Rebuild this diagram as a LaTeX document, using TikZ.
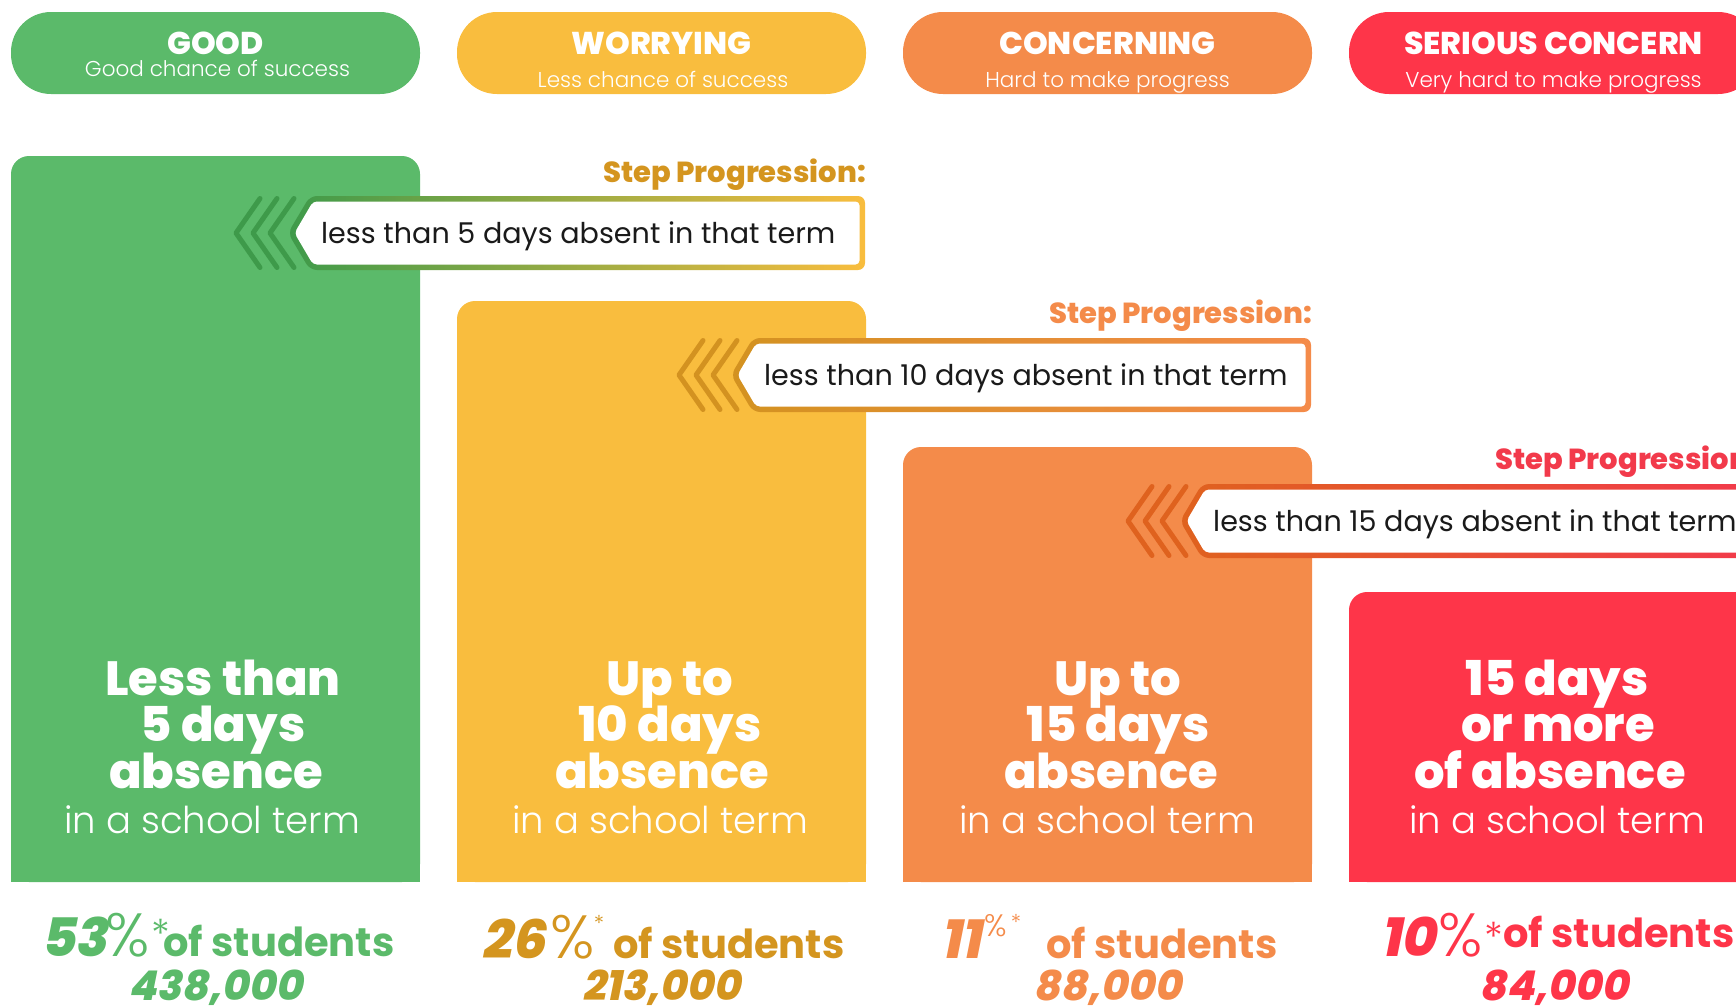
\documentclass[tikz,border=0pt]{standalone}
\usepackage{fontspec}
\setmainfont{Poppins}
\newfontfamily\plight{Poppins}[UprightFont={* Light}]
\newfontfamily\pxb{Poppins}[UprightFont={* ExtraBold}]
\newfontfamily\pnum{Poppins}[UprightFont={* ExtraBold}, FakeSlant=0.2]
\definecolor{cgood}{HTML}{5BBA6A}
\definecolor{cworry}{HTML}{F9BD3E}
\definecolor{cconc}{HTML}{F48B4A}
\definecolor{cser}{HTML}{FE3549}
\definecolor{cgold}{HTML}{D4951F}
\definecolor{cdgreen}{HTML}{3E9A4A}
\definecolor{cdgold}{HTML}{D39220}
\definecolor{cdorange}{HTML}{DF621E}
\definecolor{cred}{HTML}{F23A4B}
\definecolor{ctext}{HTML}{1A1A1A}
\tikzset{
 pill/.style={rectangle, rounded corners=40pt, minimum width=409pt, minimum height=82pt, inner sep=0pt},
 ptitle/.style={text=white, font=\pxb\fontsize{31.5}{31.5}\selectfont, anchor=base, inner sep=0pt},
 psub/.style={text=white, font=\plight\fontsize{21.5}{21.5}\selectfont, anchor=base, inner sep=0pt},
 bigl/.style={text=white, font=\pxb\fontsize{48}{48}\selectfont, anchor=base, inner sep=0pt},
 smalll/.style={text=white, font=\plight\fontsize{37}{37}\selectfont, anchor=base, inner sep=0pt},
 btext/.style={text=ctext, font=\fontsize{28.6}{28.6}\selectfont, anchor=west, inner sep=0pt},
 slabel/.style={font=\pxb\fontsize{29}{29}\selectfont, anchor=base east, inner sep=0pt},
 chev/.style={line width=5pt, line cap=round, line join=round},
 pctnum/.style={font=\pnum\fontsize{53}{53}\selectfont, anchor=base west, inner sep=0pt},
 psign/.style={font=\plight\fontsize{61}{61}\selectfont, anchor=base west, inner sep=0pt},
 astx/.style={font=\plight\fontsize{40}{40}\selectfont, inner sep=0pt},
 ofs/.style={font=\bfseries\fontsize{40}{40}\selectfont, anchor=base west, inner sep=0pt},
 cnt/.style={font=\pnum\fontsize{41}{41}\selectfont, anchor=base, inner sep=0pt},
}
% #1 P, #2 top, #3 right, #4 left colour, #5 right colour, #6 chevron colour
\newcommand\mybanner[6]{%
 \shade[left color=#4, right color=#5, rounded corners=7pt] (#1,#2+37) -- (#1+22,#2) -- (#3,#2) -- (#3,#2+74) -- (#1+22,#2+74) -- cycle;
 \fill[white, rounded corners=4pt] (#1+6.5,#2+37) -- (#1+25,#2+5.5) -- (#3-5.5,#2+5.5) -- (#3-5.5,#2+68.5) -- (#1+25,#2+68.5) -- cycle;
 \foreach \j in {1,2,3} {\draw[chev, #6] (#1+23-17*\j,#2+2.5) -- (#1-1-17*\j,#2+37) -- (#1+23-17*\j,#2+71.5);}
}
\begin{document}
\begin{tikzpicture}[x=1pt,y=-1pt]
\useasboundingbox (0,0) rectangle (1736,1005);
\clip (0,0) rectangle (1736,1005);
% pills
\node[pill, fill=cgood] (pill1) at (215.5,53) {};
\node[pill, fill=cworry] (pill2) at (661.5,53) {};
\node[pill, fill=cconc] (pill3) at (1107.5,53) {};
\node[pill, fill=cser] (pill4) at (1553.5,53) {};
\node[ptitle] (t1) at (215.5,54) {GOOD};
\node[ptitle] (t2) at (661.5,54) {WORRYING};
\node[ptitle] (t3) at (1107.5,54) {CONCERNING};
\node[ptitle] (t4) at (1553.5,54) {SERIOUS CONCERN};
\node[psub] (u1) at (217.5,76) {Good chance of success};
\node[psub] (u2) at (663,87) {Less chance of success};
\node[psub] (u3) at (1107.5,87) {Hard to make progress};
\node[psub] (u4) at (1553.5,87) {Very hard to make progress};
% bars
\fill[cgood, rounded corners=18pt] (11,156) rectangle (420,882);
\fill[cgood] (11,200) rectangle (420,882);
\fill[cworry, rounded corners=18pt] (457,301) rectangle (866,882);
\fill[cworry] (457,345) rectangle (866,882);
\fill[cconc, rounded corners=18pt] (903,447) rectangle (1312,882);
\fill[cconc] (903,490) rectangle (1312,882);
\fill[cser, rounded corners=18pt] (1349,592) rectangle (1758,882);
\fill[cser] (1349,640) rectangle (1758,882);
% step progressions
\node[slabel, text=cgold] (s1) at (866,182) {Step Progression:};
\node[slabel, text=cconc] (s2) at (1312,323) {Step Progression:};
\node[slabel, text=cred] (s3) at (1758,469) {Step Progression:};
\mybanner{288}{196}{865}{cdgreen}{cworry}{cdgreen}
\mybanner{731}{338}{1311}{cdgold}{cconc}{cdgold}
\mybanner{1180}{484}{1757}{cdorange}{cred}{cdorange}
\node[btext] (b1) at (321,236) {less than 5 days absent in that term};
\node[btext] (b2) at (764,378) {less than 10 days absent in that term};
\node[btext] (b3) at (1213,524) {less than 15 days absent in that term};
% bar texts
\node[bigl] (a1) at (223,695) {Less than};
\node[bigl] (a2) at (223,741.5) {5 days};
\node[bigl] (a3) at (216,788) {absence};
\node[smalll] (a4) at (212,833) {in a school term};
\node[bigl] (c1) at (670,695) {Up to};
\node[bigl] (c2) at (670,741.5) {10 days};
\node[bigl] (c3) at (662,788) {absence};
\node[smalll] (c4) at (660,833) {in a school term};
\node[bigl] (d1) at (1118,695) {Up to};
\node[bigl] (d2) at (1118,741.5) {15 days};
\node[bigl] (d3) at (1111,788) {absence};
\node[smalll] (d4) at (1107,833) {in a school term};
\node[bigl] (e1) at (1557,695) {15 days};
\node[bigl] (e2) at (1558,741.5) {or more};
\node[bigl] (e3) at (1550,788) {of absence};
\node[smalll] (e4) at (1557,833) {in a school term};
% statistics
\node[pctnum, text=cgood] (n1) at (40,956) {53};
\node[psign, text=cgood] (q1) at (105,956) {\%};
\node[astx, text=cgood] (x1) at (161,934) {*};
\node[ofs, text=cgood] (o1) at (163,956) {of students};
\node[cnt, text=cgood] (m1) at (215.5,1000) {438,000};
\node[pctnum, text=cgold] (n2) at (481,958) {26};
\node[psign, text=cgold] (q2) at (550,958) {\%};
\node[astx, text=cgold, font=\plight\fontsize{22}{22}\selectfont] (x2) at (599,923) {*};
\node[ofs, text=cgold] (o2) at (613,958) {of students};
\node[cnt, text=cgold] (m2) at (661,1000) {213,000};
\node[pctnum, text=cconc] (n3) at (940,958) {11};
\node[psign, text=cconc, font=\plight\fontsize{31}{31}\selectfont] (q3) at (984,936) {\%};
\node[astx, text=cconc, font=\plight\fontsize{22}{22}\selectfont] (x3) at (1016,922) {*};
\node[ofs, text=cconc] (o3) at (1046,958) {of students};
\node[cnt, text=cconc] (m3) at (1107.5,1000) {88,000};
\node[pctnum, text=cser] (n4) at (1380,956) {10};
\node[psign, text=cser] (q4) at (1438,956) {\%};
\node[astx, text=cser] (x4) at (1494,937) {*};
\node[ofs, text=cser] (o4) at (1503,947) {of students};
\node[cnt, text=cser] (m4) at (1554,1000) {84,000};
\end{tikzpicture}
\end{document}
